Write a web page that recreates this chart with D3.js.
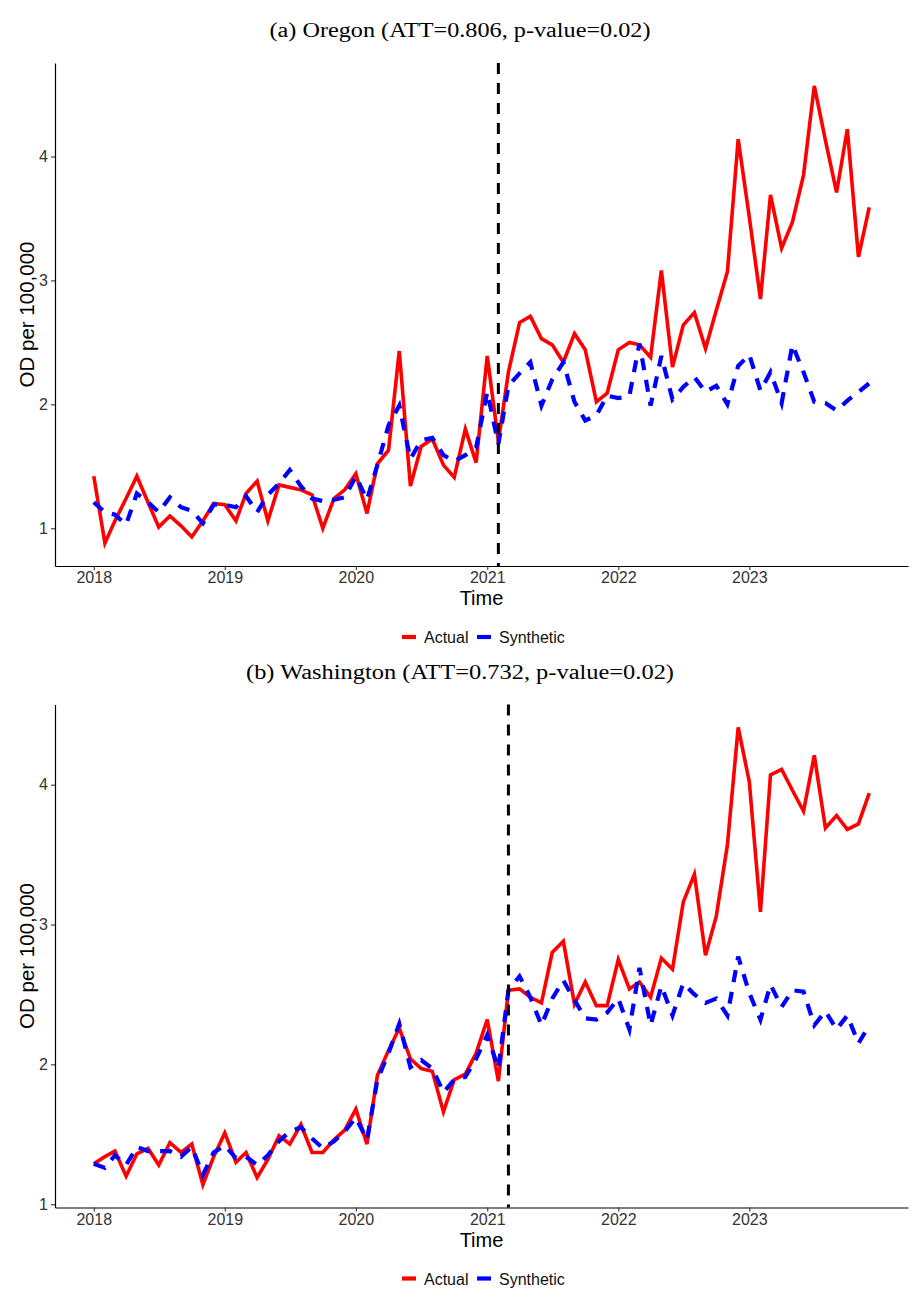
<!DOCTYPE html>
<html>
<head>
<meta charset="utf-8">
<script src="https://cdn.jsdelivr.net/npm/d3@7"></script>
<style>
  body { margin: 0; background: #fff; }
  text { font-family: "Liberation Sans", Arial, sans-serif; }
</style>
</head>
<body>
<svg id="chart" width="916" height="1308"></svg>
<script>
// monthly observations, Jan 2018 .. Dec 2023
const months = d3.timeMonth.range(new Date(2018, 0, 1), new Date(2024, 0, 1));
const yearTicks = [2018, 2019, 2020, 2021, 2022, 2023];
const valueTicks = [1, 2, 3, 4];
const seriesNames = ["Actual", "Synthetic"];
const seriesColors = ["#ff0000", "#0000ff"];

const oregonActual = [
  1.42, 0.88, 1.06, 1.24, 1.42, 1.21, 1.01, 1.10, 1.02, 0.93, 1.06, 1.20,
  1.19, 1.06, 1.28, 1.38, 1.06, 1.35, 1.33, 1.31, 1.27, 1.00, 1.24, 1.31,
  1.44, 1.12, 1.52, 1.63, 2.43, 1.34, 1.66, 1.72, 1.51, 1.41, 1.80, 1.53,
  2.39, 1.70, 2.26, 2.66, 2.71, 2.53, 2.48, 2.34, 2.57, 2.44, 2.02, 2.09,
  2.44, 2.50, 2.48, 2.38, 3.08, 2.30, 2.64, 2.74, 2.45, 2.76, 3.07, 4.14,
  3.51, 2.85, 3.69, 3.26, 3.47, 3.85, 4.57, 4.13, 3.71, 4.22, 3.19, 3.59
];
const oregonSynthetic = [
  1.21, 1.13, 1.11, 1.03, 1.28, 1.21, 1.13, 1.25, 1.17, 1.14, 1.04, 1.19,
  1.19, 1.17, 1.26, 1.13, 1.27, 1.36, 1.47, 1.34, 1.24, 1.22, 1.23, 1.25,
  1.42, 1.23, 1.51, 1.83, 1.99, 1.56, 1.71, 1.73, 1.59, 1.54, 1.59, 1.65,
  2.10, 1.68, 2.15, 2.25, 2.34, 1.99, 2.20, 2.34, 2.02, 1.87, 1.91, 2.07,
  2.05, 2.07, 2.49, 1.99, 2.39, 2.04, 2.14, 2.22, 2.10, 2.15, 2.00, 2.31,
  2.40, 2.11, 2.26, 2.01, 2.48, 2.26, 2.02, 2.01, 1.95, 2.03, 2.10, 2.17
];
const washingtonActual = [
  1.29, 1.34, 1.38, 1.20, 1.36, 1.40, 1.28, 1.44, 1.37, 1.43, 1.14, 1.34,
  1.51, 1.30, 1.37, 1.19, 1.32, 1.49, 1.43, 1.57, 1.37, 1.37, 1.46, 1.53,
  1.68, 1.43, 1.92, 2.10, 2.26, 2.04, 1.97, 1.95, 1.66, 1.89, 1.93, 2.08,
  2.32, 1.88, 2.53, 2.54, 2.48, 2.44, 2.80, 2.88, 2.43, 2.59, 2.42, 2.42,
  2.75, 2.54, 2.59, 2.48, 2.76, 2.68, 3.16, 3.36, 2.78, 3.06, 3.57, 4.41,
  4.02, 3.09, 4.07, 4.11, 3.96, 3.81, 4.21, 3.69, 3.78, 3.68, 3.72, 3.94
];
const washingtonSynthetic = [
  1.29, 1.26, 1.35, 1.28, 1.41, 1.38, 1.38, 1.38, 1.34, 1.41, 1.21, 1.37,
  1.42, 1.33, 1.34, 1.28, 1.35, 1.45, 1.52, 1.55, 1.47, 1.40, 1.45, 1.52,
  1.62, 1.46, 1.89, 2.08, 2.29, 1.98, 2.03, 1.97, 1.80, 1.89, 1.91, 2.04,
  2.21, 1.97, 2.53, 2.63, 2.48, 2.28, 2.47, 2.60, 2.46, 2.33, 2.32, 2.37,
  2.47, 2.25, 2.69, 2.28, 2.56, 2.35, 2.58, 2.50, 2.44, 2.47, 2.35, 2.77,
  2.51, 2.32, 2.57, 2.41, 2.53, 2.52, 2.28, 2.38, 2.25, 2.35, 2.15, 2.28
];

const panelTitles = [
  "(a) Oregon (ATT=0.806, p-value=0.02)",
  "(b) Washington (ATT=0.732, p-value=0.02)"
];
const treatmentMonths = [new Date(2021, 1, 1), new Date(2021, 2, 1)];

let svg = d3.select("#chart");

function drawPanel(top, title, titleWidth, actual, synthetic, treated) {
  let g = svg.append("g").attr("transform", `translate(0,${top})`);

  // ggplot-style 5% expansion on both axes
  let xExt = d3.extent(months);
  let xPad = (xExt[1] - xExt[0]) * 0.05;
  let x = d3.scaleTime()
    .domain([new Date(+xExt[0] - xPad), new Date(+xExt[1] + xPad)])
    .range([55, 908]);

  let vExt = d3.extent(actual.concat(synthetic));
  let vPad = (vExt[1] - vExt[0]) * 0.05;
  let y = d3.scaleLinear()
    .domain([vExt[0] - vPad, vExt[1] + vPad])
    .range([566, 63]);

  g.append("text")
    .attr("x", 460).attr("y", 37)
    .attr("text-anchor", "middle")
    .style("font-family", "'Liberation Serif', 'Times New Roman', serif")
    .style("font-size", "20px")
    .attr("textLength", titleWidth)
    .attr("lengthAdjust", "spacingAndGlyphs")
    .text(title);

  let xAxis = g.append("g")
    .attr("transform", `translate(0,${y.range()[0]})`)
    .call(d3.axisBottom(x)
      .tickValues(yearTicks.map(yr => new Date(yr, 0, 1)))
      .tickFormat(d3.timeFormat("%Y"))
      .tickSizeInner(4).tickSizeOuter(0).tickPadding(2));

  let yAxis = g.append("g")
    .attr("transform", `translate(${x.range()[0]},0)`)
    .call(d3.axisLeft(y)
      .tickValues(valueTicks)
      .tickFormat(d3.format("d"))
      .tickSizeInner(4).tickSizeOuter(0).tickPadding(3));

  [xAxis, yAxis].forEach(a => {
    a.select(".domain").attr("stroke", "#000").attr("stroke-width", 1.2);
    a.selectAll(".tick line").attr("stroke", "#333").attr("stroke-width", 1.1);
    a.selectAll(".tick text")
      .attr("fill", "#333")
      .style("font-family", "'Liberation Sans', Arial, sans-serif")
      .style("font-size", "16px");
  });

  g.append("text")
    .attr("x", (x.range()[0] + x.range()[1]) / 2).attr("y", 605)
    .attr("text-anchor", "middle")
    .style("font-size", "20px")
    .text("Time");

  g.append("text")
    .attr("transform", `translate(34,${(y.range()[0] + y.range()[1]) / 2}) rotate(-90)`)
    .attr("text-anchor", "middle")
    .style("font-size", "20.5px")
    .text("OD per 100,000");

  let line = d3.line()
    .x((d, i) => x(months[i]))
    .y(d => y(d));

  g.append("path")
    .datum(actual)
    .attr("d", line)
    .attr("fill", "none")
    .attr("stroke", seriesColors[0])
    .attr("stroke-width", 3.6)
    .attr("stroke-linejoin", "miter");

  g.append("path")
    .datum(synthetic)
    .attr("d", line)
    .attr("fill", "none")
    .attr("stroke", seriesColors[1])
    .attr("stroke-width", 4.2)
    .attr("stroke-dasharray", "12,10");

  g.append("line")
    .attr("x1", x(treated)).attr("x2", x(treated))
    .attr("y1", y.range()[1]).attr("y2", y.range()[0])
    .attr("stroke", "#000")
    .attr("stroke-width", 3)
    .attr("stroke-dasharray", "11,9");

  // legend
  let legend = g.append("g").attr("transform", "translate(0,637)");
  let keyX = [402, 477];
  seriesNames.forEach((name, i) => {
    legend.append("line")
      .attr("x1", keyX[i]).attr("x2", keyX[i] + 14)
      .attr("y1", 0).attr("y2", 0)
      .attr("stroke", seriesColors[i])
      .attr("stroke-width", 4.2);
    legend.append("text")
      .attr("x", keyX[i] + 22).attr("y", 6)
      .style("font-size", "16px")
      .attr("fill", "#111")
      .text(name);
  });
}

drawPanel(0, panelTitles[0], 381, oregonActual, oregonSynthetic, treatmentMonths[0]);
drawPanel(641.5, panelTitles[1], 428, washingtonActual, washingtonSynthetic, treatmentMonths[1]);
</script>
</body>
</html>
